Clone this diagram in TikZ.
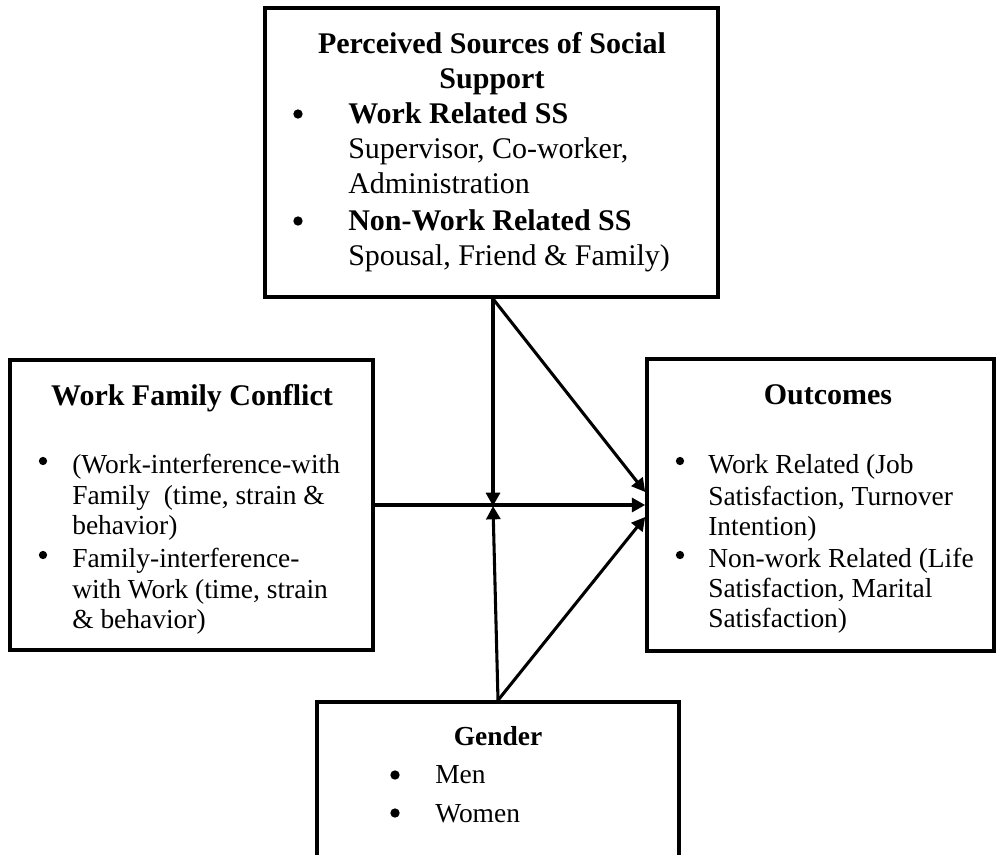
\documentclass[tikz,border=0pt]{standalone}
\usepackage{fontspec}
\setmainfont{Liberation Serif}
\usetikzlibrary{arrows.meta}
\newcommand{\fT}{\fontsize{22.5}{26}\selectfont}
\newcommand{\fB}{\fontsize{20.6}{23}\selectfont}
\tikzset{
  box/.style={draw, line width=2.7pt, rectangle, inner sep=0pt},
  arr/.style={line width=2.3pt, -{Triangle[length=10pt, width=10.5pt]}},
  lt/.style={anchor=base west, inner sep=0pt},
  ct/.style={anchor=base, inner sep=0pt},
  dotA/.style={circle, fill, draw=none, inner sep=0pt, minimum size=7pt},
  dotB/.style={circle, fill, draw=none, inner sep=0pt, minimum size=6.2pt},
}
\begin{document}
\begin{tikzpicture}[x=0.75pt, y=-0.75pt]
\useasboundingbox (0,0) rectangle (996,854);
\clip (0,0) rectangle (996,854);
% boxes
\node[box, minimum width=339.75pt, minimum height=216.75pt] (top) at (491.5,152.5) {};
\node[box, minimum width=272.25pt, minimum height=217.5pt] (wfc) at (191.5,505) {};
\node[box, minimum width=260.25pt, minimum height=219pt] (outc) at (820.5,505) {};
\node[box, minimum width=271.5pt, minimum height=148.5pt] (gen) at (498,801) {};
% top box text
\node[ct] (t1) at (492,53) {\fT\bfseries Perceived Sources of Social};
\node[ct] (t2) at (492,88) {\fT\bfseries Support};
\node[dotA] (tb1) at (298,114) {};
\node[lt] (t3) at (348,123) {\fT\bfseries Work Related SS};
\node[lt] (t4) at (348,158) {\fT Supervisor, Co-worker,};
\node[lt] (t5) at (348,193) {\fT Administration};
\node[dotA] (tb2) at (298,221) {};
\node[lt] (t6) at (348,230) {\fT\bfseries Non-Work Related SS};
\node[lt] (t7) at (348,265) {\fT Spousal, Friend \& Family)};
% left box text
\node[ct] (w0) at (192,405) {\fT\bfseries Work Family Conflict};
\node[dotB] (wb1) at (43,461) {};
\node[lt] (w1) at (72,473) {\fB (Work-interference-with};
\node[lt] (w2) at (72,504) {\fB Family\ \ (time, strain \&};
\node[lt] (w3) at (72,534) {\fB behavior)};
\node[dotB] (wb2) at (43,555) {};
\node[lt] (w4) at (72,567) {\fB Family-interference-};
\node[lt] (w5) at (72,598) {\fB with Work (time, strain};
\node[lt] (w6) at (72,628) {\fB \& behavior)};
% outcomes text
\node[ct] (o0) at (828,404) {\fT\bfseries Outcomes};
\node[dotB] (ob1) at (680,461) {};
\node[lt] (o1) at (708,473) {\fB Work Related (Job};
\node[lt] (o2) at (708,505) {\fB Satisfaction, Turnover};
\node[lt] (o3) at (708,535) {\fB Intention)};
\node[dotB] (ob2) at (680,555) {};
\node[lt] (o4) at (708,567) {\fB Non-work Related (Life};
\node[lt] (o5) at (708,597) {\fB Satisfaction, Marital};
\node[lt] (o6) at (708,627) {\fB Satisfaction)};
% gender text
\node[ct] (g0) at (498,745) {\fB\bfseries Gender};
\node[dotA] (gb1) at (395,775) {};
\node[lt] (g1) at (435,783) {\fB Men};
\node[dotA] (gb2) at (395,813) {};
\node[lt] (g2) at (435,822) {\fB Women};
% connectors
\coordinate (m) at (493,506);
\draw[arr] (top.south -| m) -- (m);
\draw[arr] (top.south -| m) -- ([yshift=9.75pt]outc.west);
\draw[arr] (wfc.east) -- (outc.west);
\draw[arr] (gen.north) -- (m);
\draw[arr] (gen.north) -- ([yshift=-9pt]outc.west);
\end{tikzpicture}
\end{document}
